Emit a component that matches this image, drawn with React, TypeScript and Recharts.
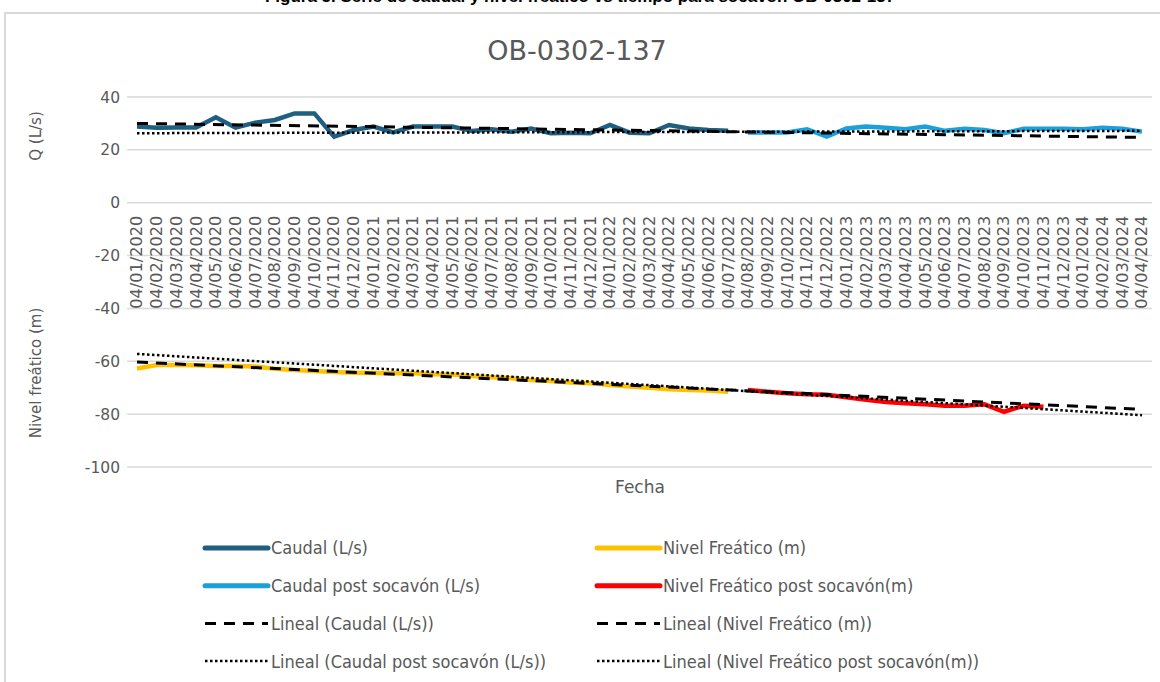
import React from 'react';
import { ComposedChart, Line, XAxis, YAxis, CartesianGrid } from 'recharts';

// Fechas de muestreo (mensual)
const fechas = [
  '04/01/2020', '04/02/2020', '04/03/2020', '04/04/2020', '04/05/2020', '04/06/2020',
  '04/07/2020', '04/08/2020', '04/09/2020', '04/10/2020', '04/11/2020', '04/12/2020',
  '04/01/2021', '04/02/2021', '04/03/2021', '04/04/2021', '04/05/2021', '04/06/2021',
  '04/07/2021', '04/08/2021', '04/09/2021', '04/10/2021', '04/11/2021', '04/12/2021',
  '04/01/2022', '04/02/2022', '04/03/2022', '04/04/2022', '04/05/2022', '04/06/2022',
  '04/07/2022', '04/08/2022', '04/09/2022', '04/10/2022', '04/11/2022', '04/12/2022',
  '04/01/2023', '04/02/2023', '04/03/2023', '04/04/2023', '04/05/2023', '04/06/2023',
  '04/07/2023', '04/08/2023', '04/09/2023', '04/10/2023', '04/11/2023', '04/12/2023',
  '04/01/2024', '04/02/2024', '04/03/2024', '04/04/2024',
];

// Caudal (L/s), 04/01/2020 - 04/07/2022
const caudal = [
  28.8, 28.4, 28.5, 28.5, 32.3, 28.4, 30.3, 31.3, 33.8, 33.8, 25.0, 27.5,
  28.8, 26.6, 28.8, 28.8, 28.8, 27.1, 27.8, 26.9, 28.1, 26.3, 26.5, 26.3,
  29.4, 26.5, 26.3, 29.4, 28.1, 27.5, 27.2,
];

// Caudal post socavón (L/s), 04/08/2022 - 04/04/2024
const caudalPost = [
  26.6, 26.6, 26.6, 27.8, 25.0, 28.1, 28.8, 28.4, 27.8, 28.8, 27.2,
  28.0, 27.5, 26.3, 28.0, 28.0, 28.0, 27.8, 28.4, 28.0, 26.9,
];

// Nivel freático (m), 04/01/2020 - 04/07/2022
const nivel = [
  -62.7, -61.4, -61.4, -61.5, -61.8, -61.8, -62.0, -62.8, -63.3, -63.7, -64.1, -64.3,
  -64.4, -64.5, -64.5, -64.9, -65.0, -65.6, -66.0, -66.4, -67.1, -67.5, -68.0, -68.3,
  -69.0, -69.5, -70.0, -70.6, -70.9, -71.1, -71.5,
];

// Nivel freático post socavón (m), 04/08/2022 - 04/11/2023
const nivelPost = [
  -70.9, -71.5, -72.1, -72.5, -72.7, -73.6, -74.6, -75.4,
  -75.9, -76.3, -76.8, -76.8, -76.3, -79.1, -76.8, -77.2,
];

// Líneas de tendencia: valor al inicio y al final del eje
const tendCaudal = [30.0, 24.7];
const tendCaudalPost = [26.3, 27.2];
const tendNivel = [-60.3, -78.2];
const tendNivelPost = [-57.2, -80.4];

const yTicks = [-100, -80, -60, -40, -20, 0, 20, 40];

const POST_START = caudal.length;
const LAST = fechas.length - 1;

const ends = (pair: number[], i: number) => (i === 0 ? pair[0] : i === LAST ? pair[1] : null);

const data = fechas.map((fecha, i) => ({
  fecha,
  caudal: i < POST_START ? caudal[i] : null,
  caudalPost: i >= POST_START ? caudalPost[i - POST_START] ?? null : null,
  nivel: i < POST_START ? nivel[i] : null,
  nivelPost: i >= POST_START ? nivelPost[i - POST_START] ?? null : null,
  tendCaudal: ends(tendCaudal, i),
  tendCaudalPost: ends(tendCaudalPost, i),
  tendNivel: ends(tendNivel, i),
  tendNivelPost: ends(tendNivelPost, i),
}));

const GRAY = '#595959';
const FONT = '"DejaVu Sans", sans-serif';
const W = 1160;
const H = 682;
const PLOT_TOP = 97;
const PLOT_BOTTOM = 467;
const Y_MIN = -100;
const Y_MAX = 40;
const ZERO_Y = PLOT_TOP + ((Y_MAX - 0) / (Y_MAX - Y_MIN)) * (PLOT_BOTTOM - PLOT_TOP);

const DASH = '11 8';
const DOT = '2.5 2.5';

const legendItems = [
  { name: 'Caudal (L/s)', color: '#1E5F82', dash: undefined, width: 5 },
  { name: 'Nivel Freático (m)', color: '#FFC000', dash: undefined, width: 5 },
  { name: 'Caudal post socavón (L/s)', color: '#1AA0DA', dash: undefined, width: 5 },
  { name: 'Nivel Freático post socavón(m)', color: '#FF0000', dash: undefined, width: 5 },
  { name: 'Lineal (Caudal (L/s))', color: '#000000', dash: DASH, width: 3 },
  { name: 'Lineal (Nivel Freático (m))', color: '#000000', dash: DASH, width: 3 },
  { name: 'Lineal (Caudal post socavón (L/s))', color: '#000000', dash: DOT, width: 2.5 },
  { name: 'Lineal (Nivel Freático post socavón(m))', color: '#000000', dash: DOT, width: 2.5 },
];

const DateTick = (props: any) => {
  const { x, payload } = props;
  return (
    <text
      transform={`translate(${x},${ZERO_Y + 13}) rotate(-90)`}
      textAnchor="end"
      dy="0.36em"
      fontSize={15}
      fontFamily={FONT}
      fill={GRAY}
      textLength={93}
      lengthAdjust="spacingAndGlyphs"
    >
      {payload.value}
    </text>
  );
};

const ChartLegend = () => (
  <svg width={W} height={150} style={{ position: 'absolute', left: 0, top: 525 }}>
    {legendItems.map((item, i) => {
      const col = i % 2;
      const row = Math.floor(i / 2);
      const x0 = col === 0 ? 205 : 597;
      const cy = 23 + row * 37.7;
      return (
        <g key={item.name}>
          <line
            x1={x0}
            x2={x0 + 63}
            y1={cy}
            y2={cy}
            stroke={item.color}
            strokeWidth={item.width}
            strokeDasharray={item.dash}
            strokeLinecap={item.dash ? 'butt' : 'round'}
          />
          <text x={x0 + 66} y={cy} dy="0.36em" fontSize={18} fontFamily={'"DejaVu Sans Condensed", sans-serif'} fill={GRAY}>
            {item.name}
          </text>
        </g>
      );
    })}
  </svg>
);

export default function App() {
  return (
    <div style={{ position: 'absolute', left: 0, top: 0, width: W, height: H, overflow: 'hidden', background: '#fff' }}>
      {/* título de la figura, cortado en el borde superior */}
      <div
        style={{
          position: 'absolute',
          top: -13,
          left: 0,
          width: W,
          textAlign: 'center',
          fontFamily: '"Liberation Sans", Arial, sans-serif',
          fontWeight: 'bold',
          fontSize: 17,
          color: '#000',
          whiteSpace: 'nowrap',
        }}
      >
        Figura 5. Serie de caudal y nivel freático vs tiempo para socavón OB-0302-137
      </div>
      <div
        style={{
          position: 'absolute',
          top: 12,
          left: 4,
          width: W,
          height: H,
          border: '2px solid #d9d9d9',
          boxSizing: 'border-box',
        }}
      />
      <div style={{ position: 'absolute', left: 0, top: 0 }}>
        <ComposedChart
          width={W}
          height={H}
          data={data}
          margin={{ top: PLOT_TOP, right: 8, bottom: H - PLOT_BOTTOM - 1, left: 67 }}
        >
          <CartesianGrid vertical={false} stroke="#d9d9d9" strokeWidth={1.5} />
          <XAxis
            dataKey="fecha"
            interval={0}
            axisLine={false}
            tickLine={false}
            height={1}
            padding={{ left: 10, right: 10 }}
            tick={<DateTick />}
          />
          <YAxis
            width={60}
            domain={[Y_MIN, Y_MAX]}
            ticks={yTicks}
            axisLine={false}
            tickLine={false}
            tickSize={0}
            tickMargin={7}
            tick={{ fontSize: 15.5, fontFamily: FONT, fill: GRAY }}
          />
          <Line dataKey="caudal" stroke="#1E5F82" strokeWidth={4.5} dot={false} isAnimationActive={false} />
          <Line dataKey="caudalPost" stroke="#1AA0DA" strokeWidth={4.5} dot={false} isAnimationActive={false} />
          <Line dataKey="nivel" stroke="#FFC000" strokeWidth={4.5} dot={false} isAnimationActive={false} />
          <Line dataKey="nivelPost" stroke="#FF0000" strokeWidth={4.5} dot={false} isAnimationActive={false} />
          <Line dataKey="tendCaudal" stroke="#000" strokeWidth={3} strokeDasharray={DASH} dot={false} connectNulls isAnimationActive={false} />
          <Line dataKey="tendNivel" stroke="#000" strokeWidth={3} strokeDasharray={DASH} dot={false} connectNulls isAnimationActive={false} />
          <Line dataKey="tendCaudalPost" stroke="#000" strokeWidth={2.5} strokeDasharray={DOT} dot={false} connectNulls isAnimationActive={false} />
          <Line dataKey="tendNivelPost" stroke="#000" strokeWidth={2.5} strokeDasharray={DOT} dot={false} connectNulls isAnimationActive={false} />
          <text x={577} y={60} textAnchor="middle" fontSize={27} fontFamily={FONT} fill={GRAY}>
            OB-0302-137
          </text>
          <text x={640} y={487} textAnchor="middle" dy="0.36em" fontSize={17} fontFamily={FONT} fill={GRAY}>
            Fecha
          </text>
          <text transform="translate(36,136) rotate(-90)" textAnchor="middle" dy="0.36em" fontSize={15} fontFamily={FONT} fill={GRAY}>
            Q (L/s)
          </text>
          <text transform="translate(36,373) rotate(-90)" textAnchor="middle" dy="0.36em" fontSize={15} fontFamily={FONT} fill={GRAY}>
            Nivel freático (m)
          </text>
        </ComposedChart>
        <ChartLegend />
      </div>
    </div>
  );
}
